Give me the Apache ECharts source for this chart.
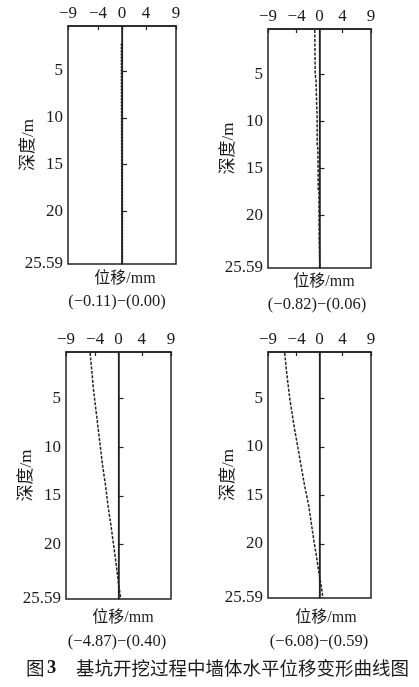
<!DOCTYPE html>
<html>
<head>
<meta charset="utf-8">
<title>基坑开挖过程中墙体水平位移变形曲线图</title>
<script src="https://cdn.jsdelivr.net/npm/echarts@6.0.0/dist/echarts.min.js"></script>
<style>
  html, body { margin: 0; padding: 0; background: #fff; }
  #chart { width: 419px; height: 687px; }
</style>
</head>
<body>
<div id="chart"></div>
<script>
// tick labels
const xTicks = [-9, -4, 0, 4, 9]
const yTicks = [5, 10, 15, 20, 25.59]
const yTickMarks = [5, 10, 15, 20]

// depth (m) / displacement (mm) per excavation stage
const depth1 = [2.1, 6, 10, 14, 18, 22, 25.59]
const disp1 = [-0.11, -0.1, -0.08, -0.06, -0.04, -0.02, 0.0]

const depth2 = [0.3, 2, 5, 5.7, 8.2, 9.2, 12.5, 13, 17.2, 17.5, 22.5, 25.59]
const disp2 = [-0.82, -0.8, -0.75, -0.6, -0.5, -0.42, -0.4, -0.28, -0.22, -0.1, -0.05, 0.06]

const depth3 = [0.3, 2, 4, 6, 8, 10, 12, 14, 16, 18, 20, 22, 24, 25.59]
const disp3 = [-4.87, -4.6, -4.3, -3.9, -3.5, -3.1, -2.7, -2.2, -1.8, -1.3, -0.85, -0.4, 0.0, 0.4]

const depth4 = [0.3, 2, 5, 8, 10, 12, 14, 16, 18, 20, 21, 22, 23, 24.5, 25.59]
const disp4 = [-6.08, -5.8, -5.2, -4.4, -3.8, -3.2, -2.6, -1.9, -1.4, -0.9, -0.6, -0.35, -0.1, 0.35, 0.59]

const rangeLabels = ['(−0.11)−(0.00)', '(−0.82)−(0.06)', '(−4.87)−(0.40)', '(−6.08)−(0.59)']

const panels = [
  { depth: depth1, disp: disp1, box: { left: 68, top: 26, width: 108, height: 238 }, dash: [2, 1.2], name: [125, 279], range: [117, 302] },
  { depth: depth2, disp: disp2, box: { left: 268, top: 29, width: 103, height: 239 }, dash: [3, 1.5], name: [324, 282], range: [317, 305] },
  { depth: depth3, disp: disp3, box: { left: 66, top: 352, width: 105, height: 247 }, dash: [3, 1.5], name: [123, 618], range: [117, 642] },
  { depth: depth4, disp: disp4, box: { left: 268, top: 352, width: 103, height: 246 }, dash: [3, 1.5], name: [326, 618], range: [319, 642] },
]

const ink = '#222'
const serif = "'Liberation Serif', 'Noto Sans CJK SC', serif"

const grids = []
const xAxes = []
const yAxes = []
const series = []
const texts = []

panels.forEach((p, i) => {
  grids.push({ ...p.box, show: true, borderColor: ink, borderWidth: 1.5, containLabel: false })
  xAxes.push({
    gridIndex: i,
    type: 'value',
    position: 'top',
    min: -9,
    max: 9,
    axisLine: { show: true, lineStyle: { color: ink, width: 1.5 } },
    axisTick: { show: true, inside: true, length: 4, customValues: xTicks, lineStyle: { color: ink, width: 1.2 } },
    axisLabel: {
      customValues: xTicks,
      formatter: (v) => (v < 0 ? '−' + Math.abs(v) : String(v)),
      color: '#1a1a1a',
      fontFamily: serif,
      fontSize: 17,
      margin: 4,
    },
    splitLine: { show: false },
  })
  yAxes.push({
    gridIndex: i,
    type: 'value',
    inverse: true,
    min: 0.2,
    max: 25.59,
    name: '深度/m',
    nameLocation: 'middle',
    nameGap: 31,
    nameMoveOverlap: false,
    nameTextStyle: { color: '#1a1a1a', fontFamily: serif, fontSize: 17 },
    axisLine: { show: true, lineStyle: { color: ink, width: 1.5 } },
    axisTick: { show: true, inside: true, length: 5, customValues: yTickMarks, lineStyle: { color: ink, width: 1.2 } },
    axisLabel: { customValues: yTicks, color: '#1a1a1a', fontFamily: serif, fontSize: 17, margin: 5 },
    splitLine: { show: false },
  })
  series.push({
    type: 'line',
    xAxisIndex: i,
    yAxisIndex: i,
    data: p.depth.map((d, k) => [p.disp[k], d]),
    symbol: 'none',
    lineStyle: { color: ink, width: 1.5, type: p.dash },
    markLine: {
      silent: true,
      symbol: 'none',
      label: { show: false },
      lineStyle: { color: ink, type: 'solid', width: 1.2 },
      data: [{ xAxis: 0 }],
    },
  })
  texts.push({
    type: 'text',
    style: { text: '位移/mm', x: p.name[0], y: p.name[1], textAlign: 'center', textVerticalAlign: 'middle', fill: '#1a1a1a', font: '16px ' + serif },
  })
  texts.push({
    type: 'text',
    style: { text: rangeLabels[i], x: p.range[0], y: p.range[1], textAlign: 'center', textVerticalAlign: 'middle', fill: '#1a1a1a', font: '16.5px ' + serif },
  })
})

// caption
texts.push({ type: 'text', style: { text: '图', x: 26, y: 668, textVerticalAlign: 'middle', fill: '#1a1a1a', font: "18.5px 'Noto Sans CJK SC'" } })
texts.push({ type: 'text', style: { text: '3', x: 47, y: 668, textVerticalAlign: 'middle', fill: '#1a1a1a', font: "bold 18.5px 'Liberation Serif'" } })
texts.push({ type: 'text', style: { text: '基坑开挖过程中墙体水平位移变形曲线图', x: 76, y: 668, textVerticalAlign: 'middle', fill: '#1a1a1a', font: "18.5px 'Noto Sans CJK SC'" } })

const chart = echarts.init(document.getElementById('chart'))
chart.setOption({
  backgroundColor: '#fff',
  animation: false,
  grid: grids,
  xAxis: xAxes,
  yAxis: yAxes,
  series,
  graphic: texts,
})
</script>
</body>
</html>
